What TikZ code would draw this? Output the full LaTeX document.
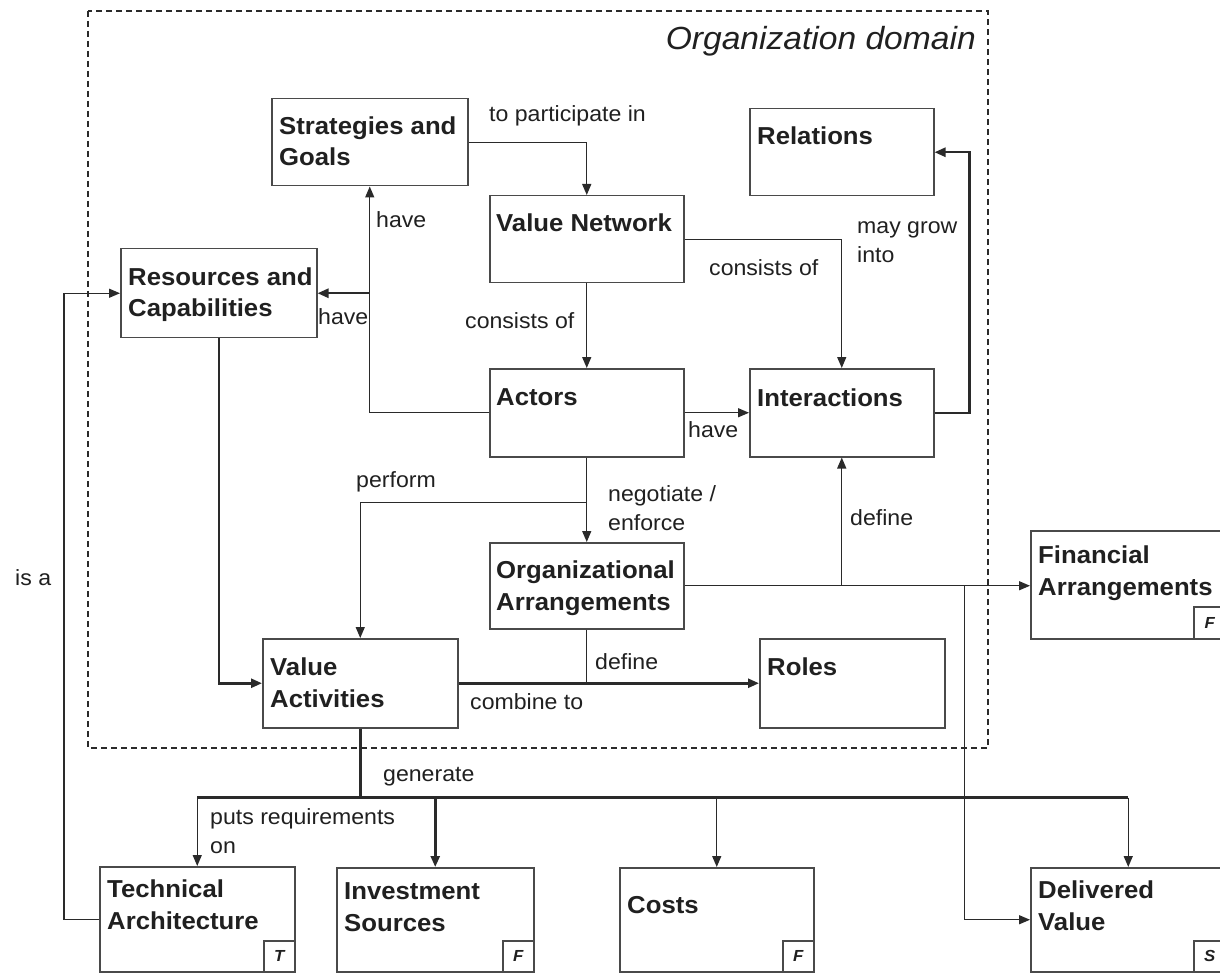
\documentclass[tikz,border=0pt]{standalone}
\usepackage{fontspec}
\setmainfont{Liberation Sans}[FakeStretch=1.05]
\usetikzlibrary{arrows.meta,calc}
\definecolor{linec}{HTML}{2A2A2A}
\definecolor{textc}{HTML}{202020}
\begin{document}
\begin{tikzpicture}[x=1pt,y=-1pt,
  box/.style={draw=linec!85, line width=1.5pt, anchor=north west, inner sep=0pt},
  title/.style={anchor=base west, inner sep=0pt, font=\fontsize{24.5}{31.5}\selectfont\bfseries, align=left, text=textc},
  lbl/.style={anchor=base west, inner sep=0pt, font=\fontsize{22}{29}\selectfont, align=left, text=textc},
  thinln/.style={draw=linec, line width=1.4pt},
  thickln/.style={draw=linec, line width=2.5pt},
  tip/.style={-{Triangle[length=11pt,width=9pt]}},
  tag/.style={draw=linec!85, line width=1.5pt, anchor=south east, minimum width=31pt, minimum height=31pt, inner sep=0pt, font=\fontsize{16}{16}\selectfont\bfseries\itshape, text=textc},
  orgdomain/.style={draw=linec, line width=1.2pt, dash pattern=on 6pt off 4pt}
]
\useasboundingbox (0,0) rectangle (1220,973);
\fill[white] (0,0) rectangle (1220,973);

% organization domain
\draw[orgdomain] (88,11) rectangle (988,748);
\node[anchor=base east, inner sep=0pt, font=\fontsize{32}{32}\selectfont\itshape, text=textc] (dom) at (976,50) {Organization domain};

% boxes
\node[box, minimum width=196pt, minimum height=87pt] (sg) at (271,98) {};
\node[box, minimum width=194pt, minimum height=87pt] (vn) at (489,195) {};
\node[box, minimum width=184pt, minimum height=87pt] (rel) at (749,108) {};
\node[box, minimum width=196pt, minimum height=89pt] (rc) at (120,248) {};
\node[box, minimum width=194pt, minimum height=88pt] (act) at (489,368) {};
\node[box, minimum width=184pt, minimum height=88pt] (int) at (749,368) {};
\node[box, minimum width=194pt, minimum height=86pt] (oa) at (489,542) {};
\node[box, minimum width=195pt, minimum height=89pt] (va) at (262,638) {};
\node[box, minimum width=185pt, minimum height=89pt] (roles) at (759,638) {};
\node[box, minimum width=195pt, minimum height=108pt] (fa) at (1030,530) {};
\node[box, minimum width=195pt, minimum height=105pt] (ta) at (99,866) {};
\node[box, minimum width=197pt, minimum height=104pt] (is) at (336,867) {};
\node[box, minimum width=194pt, minimum height=104pt] (co) at (619,867) {};
\node[box, minimum width=195pt, minimum height=104pt] (dv) at (1030,867) {};

% titles (base = last line)
\node[title] (sgt) at (279,166) {Strategies and\\Goals};
\node[title] (vnt) at (496,232) {Value Network};
\node[title] (relt) at (757,145) {Relations};
\node[title] (rct) at (128,317) {Resources and\\Capabilities};
\node[title] (actt) at (496,405) {Actors};
\node[title] (intt) at (757,406) {Interactions};
\node[title] (oat) at (496,610) {Organizational\\Arrangements};
\node[title] (vat) at (270,707) {Value\\Activities};
\node[title] (rolest) at (767,675) {Roles};
\node[title] (fat) at (1038,595) {Financial\\Arrangements};
\node[title] (tat) at (107,929) {Technical\\Architecture};
\node[title] (ist) at (344,931) {Investment\\Sources};
\node[title] (cot) at (627,913) {Costs};
\node[title] (dvt) at (1038,930) {Delivered\\Value};

% tags
\node[tag, minimum width=32pt, minimum height=32pt] (fatag) at (fa.south east) {F};
\node[tag] (tatag) at (ta.south east) {T};
\node[tag] (istag) at (is.south east) {F};
\node[tag] (cotag) at (co.south east) {F};
\node[tag, minimum width=32pt] (dvtag) at (dv.south east) {S};

% junction coordinates
\coordinate (jperf) at ($(act.south)+(0,45)$);
\coordinate (jdv) at ($(oa.east)+(280,0)$);
\coordinate (bus) at ($(va.south)+(0,69)$);

% connectors
\draw[thinln,tip] (sg.east) -| (vn.north);
\draw[thinln,tip] (vn.south) -- (act.north);
\draw[thinln,tip] (vn.east) -| (int.north);
\draw[thinln,tip] (act.east) -- (act.east -| int.west);
\draw[thickln,tip] (int.east) -- ++(35,0) |- (rel.east);
\draw[thinln,tip] (act.west) -| (sg.south);
\draw[thickln,tip] (sg.south |- rc.east) -- (rc.east);
\draw[thinln,tip] (act.south) -- (oa.north);
\draw[thinln,tip] (jperf) -| (va.north);
\draw[thinln,tip] (oa.east) -- (oa.east -| fa.west);
\draw[thinln,tip] (oa.east -| int.south) -- (int.south);
\draw[thinln,tip] (jdv) |- (dv.west);
\draw[thinln] (oa.south) -- (oa.south |- va.east);
\draw[thickln,tip] (va.east) -- (va.east -| roles.west);
\draw[thickln,tip] (rc.south) |- (va.west);
\draw[thickln] (va.south) -- (bus);
\draw[thickln] (ta.north |- bus) -- (dv.north |- bus);
\draw[thinln,tip] (ta.north |- bus) -- (ta.north);
\draw[thickln,tip] (is.north |- bus) -- (is.north);
\draw[thinln,tip] (co.north |- bus) -- (co.north);
\draw[thinln,tip] (dv.north |- bus) -- (dv.north);
\draw[thinln,tip] (ta.west) -- ++(-35,0) |- (rc.west);

% labels (base = last line)
\node[lbl] (l1) at (489,122) {to participate in};
\node[lbl] (l2) at (376,228) {have};
\node[lbl] (l3) at (318,324) {have};
\node[lbl] (l4) at (465,329) {consists of};
\node[lbl] (l5) at (709,276) {consists of};
\node[lbl] (l6) at (857,263) {may grow\\into};
\node[lbl] (l7) at (688,437) {have};
\node[lbl] (l8) at (356,487) {perform};
\node[lbl] (l9) at (608,530) {negotiate /\\enforce};
\node[lbl] (l10) at (850,525) {define};
\node[lbl] (l11) at (595,669) {define};
\node[lbl] (l12) at (470,709) {combine to};
\node[lbl] (l13) at (383,781) {generate};
\node[lbl] (l14) at (210,853) {puts requirements\\on};
\node[lbl] (l15) at (15,585) {is a};
\end{tikzpicture}
\end{document}
